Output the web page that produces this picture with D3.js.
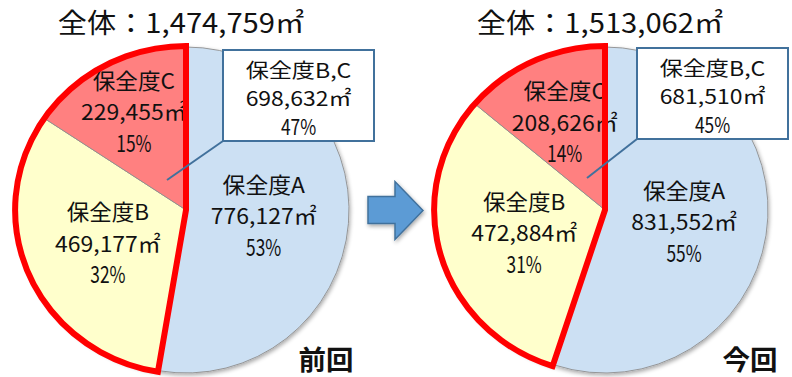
<!DOCTYPE html>
<html>
<head>
<meta charset="utf-8">
<script src="https://cdn.jsdelivr.net/npm/d3@7"></script>
<style>
  html, body { margin: 0; padding: 0; background: #fff; }
  svg { display: block; }
</style>
</head>
<body>
<svg id="chart" width="792" height="377"></svg>
<script>
// Floor area by conservation grade (保全度): previous survey vs. current survey
const categories = ["保全度A", "保全度B", "保全度C"];
const periods = ["前回", "今回"];
const previousValues = [776127, 469177, 229455];
const currentValues = [831552, 472884, 208626];
const previousPercents = [53, 32, 15];
const currentPercents = [55, 31, 14];
const groupLabel = "保全度B,C";
const groupPercents = [47, 45];
const totalLabel = "全体：";
const unit = "㎡";

const sliceColors = ["#cce0f3", "#ffffcc", "#ff8080"];

// ---- layout ----
const FONT = "'Noto Sans CJK JP', 'Noto Sans', sans-serif";
const R = 163;              // pie radius
const SX = 1.042;           // horizontal stretch of the highlighted B+C sector
const CY = 210;
const charts = [
  { cx: 186, values: previousValues, percents: previousPercents, labelR: [78, 85, 111],
    box: { dx: 37, dy: -160 }, pointer: { dx: -19, dy: -30 }, periodDx: 140 },
  { cx: 605, values: currentValues, percents: currentPercents, labelR: [80, 84, 96],
    box: { dx: 32, dy: -162 }, pointer: { dx: -18, dy: -32 }, periodDx: 145 }
];
const BOX_W = 151, BOX_H = 91;

// Fixed-pitch text: half-width characters take half an em, full-width take one em
function pitchUnits(s) {
  let u = 0;
  for (const ch of s) u += ch.codePointAt(0) < 0x2000 ? 0.5 : 1;
  return u;
}
function drawText(g, str, x, y, size, pitch, weight) {
  return g.append("text")
    .attr("x", x).attr("y", y)
    .attr("text-anchor", "middle")
    .attr("font-family", FONT)
    .attr("font-size", size)
    .attr("font-weight", weight || 400)
    .attr("fill", "#111")
    .attr("textLength", pitchUnits(str) * pitch)
    .attr("lengthAdjust", "spacingAndGlyphs")
    .text(str);
}

const fmt = d3.format(",");
const svg = d3.select("#chart");

// soft drop shadow under the pies and the arrow
const defs = svg.append("defs");
const shadow = defs.append("filter").attr("id", "shadow")
  .attr("x", "-10%").attr("y", "-10%").attr("width", "120%").attr("height", "120%");
shadow.append("feGaussianBlur").attr("in", "SourceAlpha").attr("stdDeviation", 2.2);
shadow.append("feOffset").attr("dx", 1).attr("dy", 2).attr("result", "off");
shadow.append("feComponentTransfer").append("feFuncA").attr("type", "linear").attr("slope", 0.35);
const merge = shadow.append("feMerge");
merge.append("feMergeNode");
merge.append("feMergeNode").attr("in", "SourceGraphic");

const pie = d3.pie().sort(null).value(d => d.value);
const arc = d3.arc().innerRadius(0).outerRadius(R);

charts.forEach((c, ci) => {
  const data = categories.map((name, i) => ({ name, value: c.values[i], pct: c.percents[i], i }));
  const arcs = pie(data);
  const total = d3.sum(c.values);
  const groupValue = c.values[1] + c.values[2];

  // title
  drawText(svg, totalLabel + fmt(total) + unit, c.cx - 5, 33, 27, 29);

  const g = svg.append("g").attr("transform", `translate(${c.cx},${CY})`);

  // slices
  const slices = g.append("g").attr("filter", "url(#shadow)");
  slices.append("path")
    .attr("d", arc(arcs[0]))
    .attr("fill", sliceColors[0])
    .attr("stroke", "#8f8f8f").attr("stroke-width", 0.9);
  const hi = slices.append("g").attr("transform", `scale(${SX},1)`);
  hi.selectAll("path").data(arcs.slice(1)).join("path")
    .attr("d", arc)
    .attr("fill", d => sliceColors[d.index])
    .attr("stroke", "#8f8f8f").attr("stroke-width", 0.9)
    .attr("vector-effect", "non-scaling-stroke");

  // slice labels, placed along each slice's bisector
  arcs.forEach((a, i) => {
    const mid = (a.startAngle + a.endAngle) / 2;
    const x = Math.sin(mid) * c.labelR[i];
    const y = -Math.cos(mid) * c.labelR[i];
    const lines = [a.data.name, fmt(a.data.value) + unit, a.data.pct + "%"];
    lines.forEach((t, k) => drawText(g, t, x, y + 8 + (k - 1) * 31.5, k === 2 ? 23.5 : 21.5, 23.5));
  });

  // red outline around the B+C sector
  const outline = d3.arc().innerRadius(0).outerRadius(R + 1)
    .startAngle(arcs[1].startAngle).endAngle(arcs[2].endAngle);
  g.append("g").attr("transform", `scale(${SX},1)`)
    .append("path")
    .attr("d", outline())
    .attr("fill", "none")
    .attr("stroke", "#ff0000")
    .attr("stroke-width", 6)
    .attr("stroke-linejoin", "miter")
    .attr("vector-effect", "non-scaling-stroke");

  // callout for the B+C total
  const bx = c.box.dx, by = c.box.dy;
  g.append("line")
    .attr("x1", bx).attr("y1", by + BOX_H)
    .attr("x2", c.pointer.dx).attr("y2", c.pointer.dy)
    .attr("stroke", "#41719c").attr("stroke-width", 2);
  g.append("rect")
    .attr("x", bx).attr("y", by).attr("width", BOX_W).attr("height", BOX_H)
    .attr("fill", "#fff").attr("stroke", "#41719c").attr("stroke-width", 2);
  const boxLines = [groupLabel, fmt(groupValue) + unit, groupPercents[ci] + "%"];
  boxLines.forEach((t, k) => drawText(g, t, bx + BOX_W / 2, by + 27.5 + k * 28.8, k === 2 ? 21.5 : 20, 23.5));

  // period label
  drawText(g, periods[ci], c.periodDx, 370 - CY, 27, 27.5, 700);
});

// arrow from previous to current
const ax = 368, ay = CY;
const arrow = d3.path();
arrow.moveTo(ax, ay - 13.5);
arrow.lineTo(ax + 27, ay - 13.5);
arrow.lineTo(ax + 27, ay - 28.5);
arrow.lineTo(ax + 55, ay + 0.5);
arrow.lineTo(ax + 27, ay + 29.5);
arrow.lineTo(ax + 27, ay + 13.5);
arrow.lineTo(ax, ay + 13.5);
arrow.closePath();
svg.append("path")
  .attr("d", arrow.toString())
  .attr("fill", "#5b9bd5")
  .attr("stroke", "#41719c").attr("stroke-width", 1.5)
  .attr("filter", "url(#shadow)");
</script>
</body>
</html>
